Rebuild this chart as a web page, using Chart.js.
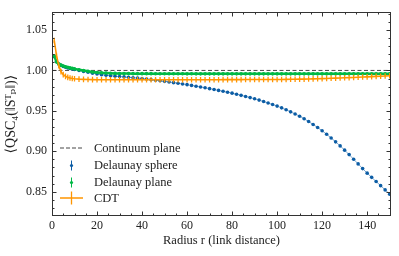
<!DOCTYPE html>
<html lang="en">
<head>
<meta charset="UTF-8">
<title>QSC4 vs radius</title>
<script src="https://cdn.jsdelivr.net/npm/chart.js@4.4.1/dist/chart.umd.min.js"></script>
<style>
  html, body { margin: 0; padding: 0; background: #fff; }
</style>
</head>
<body>
<canvas id="chart" width="399" height="256"></canvas>
<script>
// radius r (link distance)
const radii = [1, 2, 3, 4, 5, 6, 7, 8, 9, 10,
  12, 14, 16, 18, 20, 22, 24, 26, 28, 30, 32, 34, 36, 38, 40, 42, 44, 46, 48, 50,
  52, 54, 56, 58, 60, 62, 64, 66, 68, 70, 72, 74, 76, 78, 80, 82, 84, 86, 88, 90,
  92, 94, 96, 98, 100, 102, 104, 106, 108, 110, 112, 114, 116, 118, 120, 122, 124, 126, 128, 130,
  132, 134, 136, 138, 140, 142, 144, 146, 148, 150];

const sphere = [1.0170, 1.0110, 1.0080, 1.0063, 1.0050, 1.0040, 1.0031, 1.0024, 1.0017, 1.0011,
  0.9999, 0.9988, 0.9977, 0.9966, 0.9956, 0.9948, 0.9941, 0.9935, 0.9929, 0.9924, 0.9920, 0.9916, 0.9910, 0.9905, 0.9899, 0.9893, 0.9886, 0.9879, 0.9872, 0.9865,
  0.9857, 0.9849, 0.9841, 0.9833, 0.9824, 0.9815, 0.9805, 0.9795, 0.9785, 0.9775, 0.9764, 0.9753, 0.9742, 0.9731, 0.9719, 0.9706, 0.9692, 0.9678, 0.9664, 0.9649,
  0.9633, 0.9615, 0.9597, 0.9578, 0.9559, 0.9537, 0.9513, 0.9488, 0.9462, 0.9434, 0.9402, 0.9368, 0.9332, 0.9294, 0.9254, 0.9211, 0.9165, 0.9117, 0.9067, 0.9014,
  0.8959, 0.8902, 0.8844, 0.8786, 0.8730, 0.8678, 0.8626, 0.8575, 0.8523, 0.8470];

const plane = [1.0180, 1.0105, 1.0080, 1.0065, 1.0055, 1.0046, 1.0038, 1.0031, 1.0025, 1.0019,
  1.0008, 0.9998, 0.9989, 0.9981, 0.9975, 0.9970, 0.9967, 0.9965, 0.9963, 0.9962, 0.9961, 0.9961, 0.9960, 0.9960, 0.9960, 0.9960, 0.9960, 0.9959, 0.9959, 0.9959,
  0.9959, 0.9959, 0.9959, 0.9959, 0.9958, 0.9959, 0.9958, 0.9958, 0.9958, 0.9958, 0.9958, 0.9958, 0.9958, 0.9958, 0.9958, 0.9958, 0.9958, 0.9958, 0.9958, 0.9958,
  0.9958, 0.9958, 0.9958, 0.9958, 0.9958, 0.9958, 0.9958, 0.9958, 0.9958, 0.9958, 0.9958, 0.9958, 0.9958, 0.9958, 0.9958, 0.9958, 0.9958, 0.9958, 0.9958, 0.9958,
  0.9958, 0.9958, 0.9958, 0.9958, 0.9958, 0.9958, 0.9958, 0.9958, 0.9958, 0.9958];

const cdt = [1.0370, 1.0185, 1.0060, 0.9985, 0.9948, 0.9927, 0.9914, 0.9906, 0.9901, 0.9897,
  0.9892, 0.9889, 0.9887, 0.9886, 0.9885, 0.9885, 0.9884, 0.9884, 0.9884, 0.9884, 0.9884, 0.9884, 0.9884, 0.9884, 0.9884, 0.9884, 0.9884, 0.9884, 0.9884, 0.9884,
  0.9884, 0.9884, 0.9884, 0.9884, 0.9884, 0.9885, 0.9885, 0.9885, 0.9885, 0.9885, 0.9885, 0.9885, 0.9886, 0.9886, 0.9886, 0.9886, 0.9886, 0.9887, 0.9887, 0.9887,
  0.9887, 0.9887, 0.9888, 0.9888, 0.9888, 0.9888, 0.9889, 0.9890, 0.9891, 0.9892, 0.9893, 0.9894, 0.9896, 0.9897, 0.9899, 0.9901, 0.9903, 0.9905, 0.9907, 0.9909,
  0.9911, 0.9913, 0.9915, 0.9918, 0.9920, 0.9923, 0.9926, 0.9928, 0.9931, 0.9934];

const continuumX = [0, 151];
const continuumY = [1, 1];

const xTicks = [0, 20, 40, 60, 80, 100, 120, 140];
const yTicks = [0.85, 0.90, 0.95, 1.00, 1.05];
const labels = ['Continuum plane', 'Delaunay sphere', 'Delaunay plane', 'CDT'];

const BLUE = '#0C5DA5', GREEN = '#00B945', ORANGE = '#FF9500', GREY = '#474747';
const SERIF = '"Liberation Serif", "DejaVu Serif", serif';

const pts = (xs, ys) => xs.map((x, i) => ({x: x, y: ys[i]}));

// frame with inward major/minor ticks on all four sides
const framePlugin = {
  id: 'frame',
  afterDatasetsDraw(chart) {
    const {ctx, chartArea: a, scales} = chart;
    const L = Math.round(a.left) + 0.5, R = Math.round(a.right) - 0.5;
    const T = Math.round(a.top) + 0.5, B = Math.round(a.bottom) - 0.5;
    ctx.save();
    ctx.strokeStyle = '#333';
    ctx.lineWidth = 1;
    ctx.strokeRect(L, T, R - L, B - T);
    ctx.beginPath();
    for (let v = 0; v <= 150; v += 5) {
      const px = Math.round(scales.x.getPixelForValue(v)) + 0.5;
      const len = v % 20 === 0 ? 4 : 2;
      ctx.moveTo(px, B); ctx.lineTo(px, B - len);
      ctx.moveTo(px, T); ctx.lineTo(px, T + len);
    }
    for (let k = 83; k <= 107; k++) {
      const py = Math.round(scales.y.getPixelForValue(k / 100)) + 0.5;
      const len = k % 5 === 0 ? 4 : 2;
      ctx.moveTo(L, py); ctx.lineTo(L + len, py);
      ctx.moveTo(R, py); ctx.lineTo(R - len, py);
    }
    ctx.stroke();
    ctx.restore();
  }
};

const legendPlugin = {
  id: 'sciLegend',
  afterDraw(chart) {
    const ctx = chart.ctx;
    const x0 = 60, x1 = 83, xm = 71.5, tx = 94;
    const rows = [148, 165.5, 182.5, 198];
    ctx.save();
    // continuum
    ctx.strokeStyle = GREY; ctx.lineWidth = 1; ctx.setLineDash([4, 2]);
    ctx.beginPath(); ctx.moveTo(x0, rows[0]); ctx.lineTo(x1, rows[0]); ctx.stroke();
    ctx.setLineDash([]);
    // sphere / plane
    [[BLUE, rows[1]], [GREEN, rows[2]]].forEach(([c, y]) => {
      ctx.strokeStyle = c; ctx.fillStyle = c; ctx.lineWidth = 1;
      ctx.beginPath(); ctx.moveTo(xm, y - 5); ctx.lineTo(xm, y + 5); ctx.stroke();
      ctx.beginPath(); ctx.arc(xm, y, 1.6, 0, Math.PI * 2); ctx.fill();
    });
    // cdt
    ctx.strokeStyle = ORANGE; ctx.lineWidth = 1.3;
    ctx.beginPath();
    ctx.moveTo(x0, rows[3]); ctx.lineTo(x1, rows[3]);
    ctx.moveTo(xm, rows[3] - 6.5); ctx.lineTo(xm, rows[3] + 6.5);
    ctx.stroke();
    ctx.fillStyle = '#222';
    ctx.font = '12.5px ' + SERIF;
    ctx.textBaseline = 'middle';
    labels.forEach((t, i) => ctx.fillText(t, tx, rows[i] + 0.5));
    ctx.restore();
  }
};

new Chart(document.getElementById('chart'), {
  type: 'scatter',
  data: {
    datasets: [
      {
        label: labels[0], data: pts(continuumX, continuumY), showLine: true,
        borderColor: GREY, borderWidth: 1, borderDash: [4, 2.5], pointRadius: 0, order: 3
      },
      {
        label: labels[1], data: pts(radii, sphere), showLine: true, borderWidth: 1,
        backgroundColor: BLUE, borderColor: 'rgba(12,93,165,0.55)',
        pointBorderColor: BLUE, pointRadius: 1.8, pointBorderWidth: 0, order: 2
      },
      {
        label: labels[2], data: pts(radii, plane), showLine: true, borderWidth: 2.5,
        backgroundColor: GREEN, borderColor: GREEN, pointRadius: 1.8, pointBorderWidth: 0, order: 1
      },
      {
        label: labels[3], data: pts(radii, cdt), showLine: true,
        borderColor: ORANGE, backgroundColor: ORANGE, borderWidth: 1.6,
        pointStyle: 'line', pointRotation: 90, pointRadius: 2.8, pointBorderWidth: 1.3, order: 0
      }
    ]
  },
  options: {
    responsive: false,
    animation: false,
    events: [],
    layout: {padding: {left: 0, right: 8, top: 7, bottom: 0}},
    plugins: {legend: {display: false}, tooltip: {enabled: false}},
    scales: {
      x: {
        type: 'linear', min: 0, max: 150.6,
        grid: {display: false, drawTicks: false}, border: {display: false},
        afterFit(s) { s.height = 40; },
        afterBuildTicks(s) { s.ticks = xTicks.map(v => ({value: v})); },
        ticks: {padding: 3, color: '#222', font: {family: SERIF, size: 12}},
        title: {display: true, text: 'Radius r (link distance)', color: '#222',
          font: {family: SERIF, size: 12.5}, padding: {top: 0, bottom: 8}}
      },
      y: {
        type: 'linear', min: 0.82, max: 1.072,
        grid: {display: false, drawTicks: false}, border: {display: false},
        afterFit(s) { s.width = 52; },
        afterBuildTicks(s) { s.ticks = yTicks.map(v => ({value: v})); },
        ticks: {padding: 5, color: '#222', font: {family: SERIF, size: 12},
          callback: v => v.toFixed(2)},
        title: {display: true, text: '⟨QSC₄(‖Sᵀₚ‖)⟩', color: '#222',
          font: {family: SERIF, size: 14}, padding: {top: 3, bottom: 0}}
      }
    }
  },
  plugins: [framePlugin, legendPlugin]
});
</script>
</body>
</html>
